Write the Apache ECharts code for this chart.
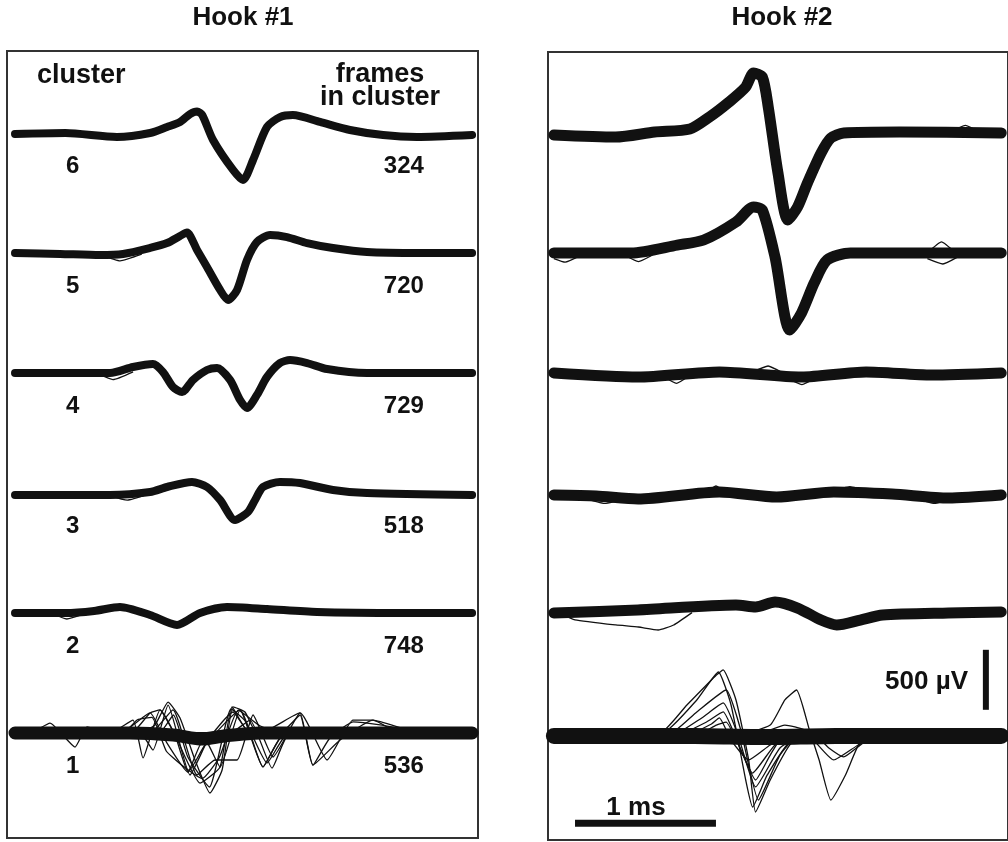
<!DOCTYPE html>
<html><head><meta charset="utf-8">
<script src="https://cdn.jsdelivr.net/npm/echarts@6/dist/echarts.min.js"></script>
<style>html,body{margin:0;padding:0;background:#fff}#c{width:1008px;height:842px}</style>
</head><body><div id="c"></div>
<script>
// ---------------- DATA ----------------
const panelTitles = ['Hook #1', 'Hook #2'];
const clusterIds = ['6', '5', '4', '3', '2', '1'];
const framesInCluster = ['324', '720', '729', '518', '748', '536'];
const clusterSpacing = 1000;          // µV between stacked baselines
const scaleTimeBar = [0.15, 1.15];    // ms  (1 ms)
const scaleTimeLevel = -735;          // µV
const scaleVoltBar = [210, 710];      // µV  (500 µV)
const scaleVoltTime = 3.065;          // ms

// Hook #1 — mean waveform of each cluster [ms, µV]
const h1c6 = [[0,-8],[0.35,0],[0.708,-33],[0.938,0],[1.056,50],[1.146,92],[1.215,158],[1.264,180],[1.3,150],[1.375,-58],[1.514,-308],[1.583,-392],[1.653,-225],[1.75,50],[1.84,133],[1.93,150],[2.118,92],[2.326,25],[2.556,-17],[2.79,-33],[3.174,-17]];
const h1c5 = [[0,0],[0.313,-8],[0.59,-17],[0.75,-8],[0.938,42],[1.056,83],[1.146,142],[1.194,170],[1.264,25],[1.333,-117],[1.424,-308],[1.479,-392],[1.542,-308],[1.611,-58],[1.68,92],[1.771,150],[1.889,133],[2.028,83],[2.208,42],[2.444,8],[2.813,0],[3.174,0]];
const h1c4 = [[0,0],[0.66,0],[0.819,50],[0.958,75],[1.028,8],[1.097,-117],[1.16,-158],[1.236,-58],[1.333,25],[1.403,42],[1.493,-58],[1.563,-225],[1.611,-292],[1.68,-183],[1.75,-33],[1.84,83],[1.91,108],[2.028,83],[2.167,33],[2.444,0],[3.174,0]];
const h1c3 = [[0,-17],[0.66,-17],[0.938,8],[1.056,50],[1.229,92],[1.333,50],[1.424,-58],[1.528,-225],[1.618,-158],[1.667,-58],[1.722,50],[1.84,92],[1.979,83],[2.208,25],[2.444,0],[3.174,-17]];
const h1c2 = [[0,0],[0.35,0],[0.55,17],[0.729,50],[0.938,-17],[1.125,-100],[1.285,0],[1.472,50],[1.75,33],[2.097,8],[2.7,0],[3.174,0]];
const h1c1 = [[0,0],[0.8,0],[1.1,-17],[1.3,-50],[1.45,-25],[1.7,0],[3.174,0]];

// Hook #1 — individual outlying frames
const h1c5Thin = [[[0.6,-17],[0.73,-65],[0.88,-10]]];
const h1c4Thin = [[[0.58,-8],[0.68,-55],[0.82,10]], [[3.02,0],[3.1,25],[3.17,10]]];
const h1c3Thin = [[[0.65,-17],[0.78,-60],[0.92,-10]]];
const h1c2Thin = [[[0.25,0],[0.36,-50],[0.48,-8]]];
const h1c1Thin = [
  [[0,0],[0.868,0],[0.972,67],[1.063,258],[1.146,125],[1.25,-225],[1.354,-500],[1.438,-308],[1.514,217],[1.597,175],[1.688,-17],[1.979,0],[3.174,0]],
  [[0,0],[0.799,-8],[0.938,167],[1.007,192],[1.111,-17],[1.201,-325],[1.285,-100],[1.389,0],[3.174,0]],
  [[0,0],[0.66,0],[0.819,108],[0.889,-208],[1.007,192],[1.111,-17],[1.285,-417],[1.424,-283],[1.507,217],[1.632,0],[3.174,0]],
  [[0,0],[0.729,0],[0.938,167],[1.042,-58],[1.201,-325],[1.319,-100],[1.563,192],[1.722,-283],[1.875,0],[3.174,0]],
  [[0,0],[0.938,0],[1.097,192],[1.264,-350],[1.389,-225],[1.542,-225],[1.653,150],[1.792,-200],[1.979,167],[2.069,-267],[2.222,0],[3.174,0]],
  [[0,0],[1.285,0],[1.424,-283],[1.563,192],[1.722,-283],[1.875,0],[3.174,0]],
  [[0,0],[1.701,0],[1.979,167],[2.167,-225],[2.347,108],[2.486,108],[2.674,0],[3.174,0]],
  [[0,0],[0.104,0],[0.243,83],[0.417,-117],[0.5,50],[0.66,0],[3.174,0]],
  [[0,0],[1.84,0],[1.979,150],[2.069,-267],[2.257,-58],[2.486,108],[2.813,0],[3.174,0]],
  [[0,0],[0.868,0],[0.958,-142],[1.063,233],[1.215,-350],[1.34,-58],[1.514,175],[1.632,0],[3.174,0]],
  [[0,0],[1.493,0],[1.632,108],[1.785,-292],[1.91,0],[3.174,0]],
  [[0,0],[2.188,-17],[2.347,92],[2.535,67],[2.951,-17],[3.174,8]],
  [[0,0],[1.0,0],[1.1,150],[1.2,-200],[1.35,-450],[1.5,200],[1.6,100],[1.75,-250],[1.9,0],[3.174,0]],
  [[0,0],[0.75,0],[0.85,110],[0.95,130],[1.05,-150],[1.15,-260],[1.3,-380],[1.42,-200],[1.55,190],[1.7,60],[1.85,0],[3.174,0]]
];

// Hook #2 — mean waveform of each cluster [ms, µV]
const h2c6 = [[0,0],[0.438,-17],[0.715,25],[0.965,50],[1.104,150],[1.243,275],[1.361,400],[1.417,517],[1.479,483],[1.521,233],[1.59,-317],[1.66,-708],[1.729,-600],[1.799,-400],[1.896,-150],[1.965,-25],[2.056,17],[2.451,25],[3.174,17]];
const h2c5 = [[0,17],[0.549,17],[0.875,83],[1.063,125],[1.292,275],[1.417,400],[1.479,375],[1.569,-17],[1.674,-625],[1.757,-483],[1.847,-233],[1.938,-42],[2.104,17],[3.174,17]];
const h2c4 = [[0,17],[0.597,-17],[1.174,25],[1.757,-17],[2.215,25],[2.681,0],[3.174,17]];
const h2c3 = [[0,0],[0.3,-8],[0.597,-33],[1.174,25],[1.58,-17],[1.986,25],[2.4,8],[2.8,-25],[3.174,0]];
const h2c2 = [[0,17],[0.597,42],[1.292,83],[1.431,67],[1.569,108],[1.729,58],[1.896,-42],[2.007,-83],[2.174,-42],[2.333,0],[2.799,17],[3.174,25]];
const h2c1 = [[0,-8],[1.0,-8],[1.5,-17],[2.0,-8],[3.174,-8]];

// Hook #2 — individual outlying frames
const h2c6Thin = [[[2.8,17],[2.92,80],[3.02,25]]];
const h2c5Thin = [[[0,-30],[0.08,-60],[0.18,-10]], [[0.5,0],[0.6,-55],[0.7,0]], [[2.65,17],[2.75,110],[2.85,17]], [[2.65,-30],[2.76,-75],[2.86,-20]]];
const h2c4Thin = [[[1.4,20],[1.52,75],[1.62,20]], [[1.65,-20],[1.76,-80],[1.86,-20]], [[0.78,-15],[0.87,-70],[0.95,-15]]];
const h2c3Thin = [[[0.2,-20],[0.36,-70],[0.55,-20]], [[1.08,20],[1.15,75],[1.22,20]], [[1.95,20],[2.1,70],[2.25,20]], [[2.55,-20],[2.7,-70],[2.85,-20]]];
const h2c2Thin = [[[0.05,10],[0.15,-40],[0.44,-83],[0.6,-100],[0.74,-125],[0.85,-83],[0.98,20]]];
const h2c1Thin = [
  [[0,0],[0.736,0],[0.944,250],[1.153,500],[1.201,542],[1.292,292],[1.382,-208],[1.431,-642],[1.535,-375],[1.674,-83],[1.778,0],[3.174,0]],
  [[0,0],[0.771,17],[1.014,292],[1.167,525],[1.257,250],[1.361,-375],[1.41,-600],[1.514,-333],[1.708,-25],[3.174,0]],
  [[0,0],[0.806,0],[1.014,192],[1.222,375],[1.326,42],[1.451,-542],[1.604,-167],[1.743,0],[3.174,0]],
  [[0,0],[0.84,0],[1.049,142],[1.201,267],[1.306,0],[1.431,-433],[1.604,-108],[1.778,0],[3.174,0]],
  [[0,0],[0.875,0],[1.083,108],[1.201,192],[1.292,-25],[1.41,-317],[1.569,-83],[1.743,0],[3.174,0]],
  [[0,0],[0.944,0],[1.118,92],[1.174,142],[1.257,-42],[1.382,-208],[1.535,-83],[1.708,0],[3.174,0]],
  [[0,0],[1.014,0],[1.153,83],[1.222,108],[1.326,-125],[1.431,-375],[1.535,-167],[1.639,0],[3.174,0]],
  [[0,0],[1.292,0],[1.535,83],[1.639,292],[1.722,375],[1.813,42],[1.882,-208],[1.965,-542],[2.069,-333],[2.181,-42],[2.333,0],[3.174,0]],
  [[0,0],[1.431,0],[1.639,83],[1.778,42],[1.986,-208],[2.16,-83],[2.333,0],[3.174,0]],
  [[0,0],[1.847,0],[1.951,-108],[2.056,-183],[2.194,-67],[2.403,0],[3.174,0]],
  [[0,-25],[0.3,-50],[0.6,-25],[1.0,-40],[2.4,-30],[2.6,-60],[2.9,-40],[3.1,-70],[3.174,-50]]
];

const hook1Means = [h1c6, h1c5, h1c4, h1c3, h1c2, h1c1];
const hook1Thin  = [[], h1c5Thin, h1c4Thin, h1c3Thin, h1c2Thin, h1c1Thin];
const hook2Means = [h2c6, h2c5, h2c4, h2c3, h2c2, h2c1];
const hook2Thin  = [h2c6Thin, h2c5Thin, h2c4Thin, h2c3Thin, h2c2Thin, h2c1Thin];

// ---------------- CHART ----------------
const INK = '#111';
const FONT = '"Liberation Sans", Arial, Helvetica, sans-serif';
const series = [];
function shift(arr, off) { return arr.map(p => [p[0], p[1] + off]); }
function addPanel(g, means, thins, bandW, band1W) {
  means.forEach((m, i) => {
    const n = 6 - i;
    const off = (n - 1) * clusterSpacing;
    (thins[i] || []).forEach(tr => series.push({
      type: 'line', xAxisIndex: g, yAxisIndex: g, data: shift(tr, off),
      showSymbol: false, symbol: 'none', smooth: 0.15, silent: true,
      lineStyle: { color: INK, width: 1.3, join: 'round' }, z: 2
    }));
    series.push({
      type: 'line', xAxisIndex: g, yAxisIndex: g, data: shift(m, off),
      showSymbol: false, symbol: 'none', smooth: 0.25, silent: true,
      lineStyle: { color: INK, width: n === 1 ? band1W : bandW, join: 'round', cap: 'round' }, z: 3
    });
  });
}
addPanel(0, hook1Means, hook1Thin, 8, 13);
addPanel(1, hook2Means, hook2Thin, 11, 16);

// scale bars
series.push({
  type: 'line', xAxisIndex: 1, yAxisIndex: 1, showSymbol: false, symbol: 'none', silent: true,
  data: scaleTimeBar.map(t => [t, scaleTimeLevel]),
  lineStyle: { color: INK, width: 7, cap: 'butt' }, z: 5
});
series.push({
  type: 'line', xAxisIndex: 1, yAxisIndex: 1, showSymbol: false, symbol: 'none', silent: true,
  data: scaleVoltBar.map(v => [scaleVoltTime, v]),
  lineStyle: { color: INK, width: 6, cap: 'butt' }, z: 5
});

const option = {
  animation: false,
  backgroundColor: '#fff',
  grid: [
    { left: 7, top: 51, width: 471, height: 787, show: true, borderColor: '#333', borderWidth: 2, backgroundColor: 'transparent' },
    { left: 548, top: 52, width: 470, height: 788, show: true, borderColor: '#333', borderWidth: 2, backgroundColor: 'transparent' }
  ],
  xAxis: [
    { gridIndex: 0, type: 'value', min: -0.0556, max: 3.215, show: false },
    { gridIndex: 1, type: 'value', min: -0.0417, max: 3.222, show: false }
  ],
  yAxis: [
    { gridIndex: 0, type: 'value', min: -875, max: 5683.3, show: false },
    { gridIndex: 1, type: 'value', min: -875, max: 5691.7, show: false }
  ],
  series: series
};

const chart = echarts.init(document.getElementById('c'), null, { renderer: 'canvas' });
chart.setOption(option);

// text
function txt(x, y, text, size, align) {
  return { type: 'text', x: x, y: y, z: 10, silent: true,
    style: { text: text, fill: INK, font: 'bold ' + size + 'px ' + FONT, textAlign: align || 'center', textVerticalAlign: 'middle' } };
}
const graphics = [
  txt(243, 18, panelTitles[0], 26),
  txt(782, 18, panelTitles[1], 26),
  txt(37, 76, 'cluster', 27, 'left'),
  txt(380, 75, 'frames', 27),
  txt(380, 98, 'in cluster', 27),
  txt(968, 682, '500 µV', 26, 'right'),
  txt(636, 808, '1 ms', 26)
];
clusterIds.forEach((id, i) => {
  const n = 6 - i;
  const off = (n - 1) * clusterSpacing;
  const pL = chart.convertToPixel({ gridIndex: 0 }, [0.40, off - 275]);
  const pR = chart.convertToPixel({ gridIndex: 0 }, [2.70, off - 275]);
  graphics.push(txt(pL[0], pL[1], id, 24));
  graphics.push(txt(pR[0], pR[1], framesInCluster[i], 24));
});
chart.setOption({ graphic: graphics });
</script>
</body></html>
